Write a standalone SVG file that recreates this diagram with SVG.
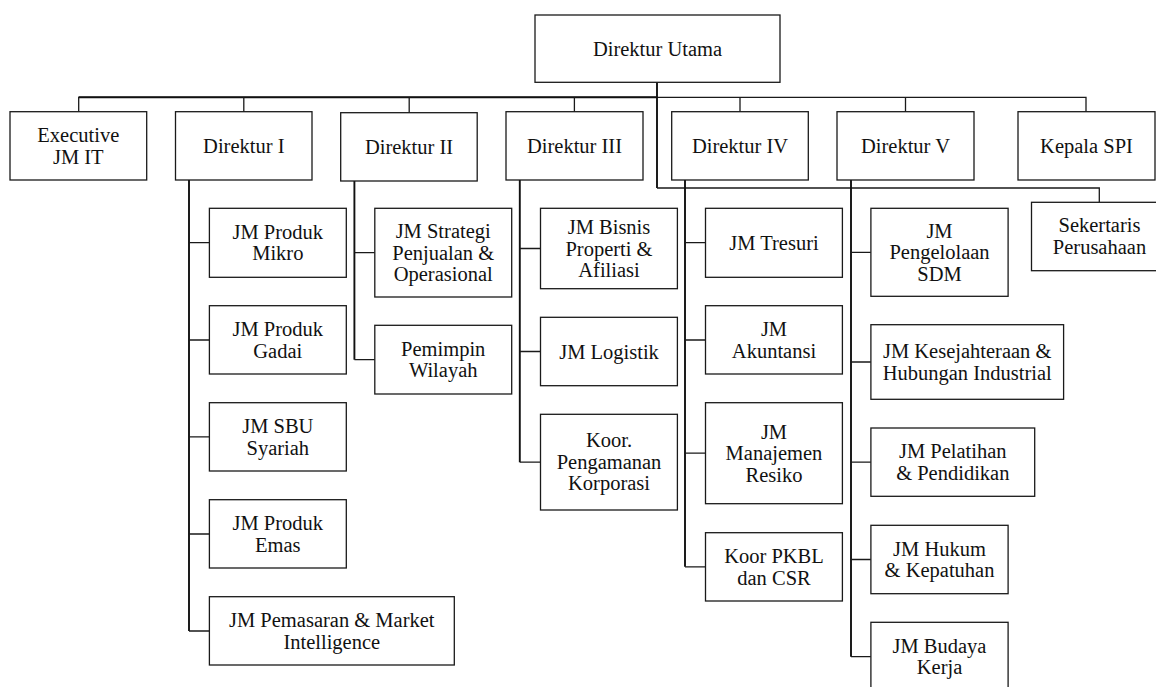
<svg xmlns="http://www.w3.org/2000/svg" width="1156" height="687" viewBox="0 0 1156 687">
<style>
.box{fill:#fff;stroke:#1a1a1a;stroke-width:1.3}
.t{font-family:'Liberation Serif','Times New Roman',Tinos,'DejaVu Serif',serif;font-size:20.5px;text-anchor:middle;fill:#111}
.c{fill:none;stroke:#1a1a1a;stroke-width:1.3}
.ck{fill:none;stroke:#111;stroke-width:1.9}
</style>
<rect width="1156" height="687" fill="#fff"/>
<g id="connectors">
<path class="c" d="M78.7 111.7V97.3H1086V111.7"/>
<path class="ck" d="M78.7 97.3H657"/>
<path class="c" d="M243.8 97.3V112M409.2 97.3V112.7M574.4 97.3V112M740 97.3V112M905.5 97.3V112"/>
<path class="ck" d="M657 82.3V188"/>
<path class="c" d="M657 188H1099.3V202.3"/>
<path class="ck" d="M189 180V631"/>
<path class="c" d="M189 242.7H209.4M189 340H209.4M189 436.8H209.4M189 534H209.4M189 631H209.4"/>
<path class="ck" d="M354.4 181V359.7"/>
<path class="c" d="M354.4 252.7H374.8M354.4 359.7H374.8"/>
<path class="ck" d="M519.8 180V462.2"/>
<path class="c" d="M519.8 248.5H540.5M519.8 351.5H540.5M519.8 462.2H540.5"/>
<path class="ck" d="M685 180V566.8"/>
<path class="c" d="M685 242.7H705.5M685 340H705.5M685 453.2H705.5M685 566.8H705.5"/>
<path class="ck" d="M851 180V656.7"/>
<path class="c" d="M851 252.3H870.9M851 362H870.9M851 462.2H870.9M851 559.5H870.9M851 656.7H870.9"/>
</g>
<g font-family="Liberation Serif, Times New Roman, serif">
<g id="direktur-utama"><rect class="box" x="535" y="15" width="245" height="67.3"/><text class="t" x="657.5" y="55.7">Direktur Utama</text></g>
<g id="executive-jm-it"><rect class="box" x="10" y="111.7" width="136.7" height="68.3"/><text class="t" x="78.3" y="142.1">Executive</text><text class="t" x="78.3" y="163.6">JM IT</text></g>
<g id="direktur-i"><rect class="box" x="175.5" y="111.7" width="136.5" height="68.3"/><text class="t" x="243.8" y="152.8">Direktur I</text></g>
<g id="direktur-ii"><rect class="box" x="340.7" y="112.7" width="136.5" height="68.3"/><text class="t" x="409" y="153.8">Direktur II</text></g>
<g id="direktur-iii"><rect class="box" x="506" y="111.7" width="137" height="68.3"/><text class="t" x="574.5" y="152.8">Direktur III</text></g>
<g id="direktur-iv"><rect class="box" x="671.7" y="111.7" width="136.6" height="68.3"/><text class="t" x="740" y="152.8">Direktur IV</text></g>
<g id="direktur-v"><rect class="box" x="837" y="111.7" width="137" height="68.3"/><text class="t" x="905.5" y="152.8">Direktur V</text></g>
<g id="kepala-spi"><rect class="box" x="1018" y="111.7" width="137" height="68.3"/><text class="t" x="1086.5" y="152.8">Kepala SPI</text></g>
<g id="sekertaris-perusahaan"><rect class="box" x="1031.5" y="202.3" width="137" height="68.4"/><text class="t" x="1099.5" y="232.3">Sekertaris</text><text class="t" x="1099.5" y="253.8">Perusahaan</text></g>
<g id="jm-produk-mikro"><rect class="box" x="209.4" y="208.3" width="136.9" height="69"/><text class="t" x="277.8" y="238.6">JM Produk</text><text class="t" x="277.8" y="260.1">Mikro</text></g>
<g id="jm-produk-gadai"><rect class="box" x="209.4" y="305.7" width="136.9" height="68.3"/><text class="t" x="277.8" y="336">JM Produk</text><text class="t" x="277.8" y="357.5">Gadai</text></g>
<g id="jm-sbu-syariah"><rect class="box" x="209.4" y="402.7" width="136.9" height="68.3"/><text class="t" x="277.8" y="433">JM SBU</text><text class="t" x="277.8" y="454.5">Syariah</text></g>
<g id="jm-produk-emas"><rect class="box" x="209.4" y="499.7" width="136.9" height="68.3"/><text class="t" x="277.8" y="530">JM Produk</text><text class="t" x="277.8" y="551.5">Emas</text></g>
<g id="jm-pemasaran"><rect class="box" x="209.4" y="596.7" width="244.9" height="68.3"/><text class="t" x="331.8" y="627">JM Pemasaran &amp; Market</text><text class="t" x="331.8" y="648.5">Intelligence</text></g>
<g id="jm-strategi"><rect class="box" x="374.8" y="208.3" width="136.9" height="88.7"/><text class="t" x="443.2" y="238.2">JM Strategi</text><text class="t" x="443.2" y="259.7">Penjualan &amp;</text><text class="t" x="443.2" y="281.2">Operasional</text></g>
<g id="pemimpin-wilayah"><rect class="box" x="374.8" y="325.3" width="136.9" height="68.7"/><text class="t" x="443.2" y="355.8">Pemimpin</text><text class="t" x="443.2" y="377.3">Wilayah</text></g>
<g id="jm-bisnis-properti"><rect class="box" x="540.5" y="208.3" width="136.9" height="80.4"/><text class="t" x="609" y="234.2">JM Bisnis</text><text class="t" x="609" y="255.7">Properti &amp;</text><text class="t" x="609" y="277.2">Afiliasi</text></g>
<g id="jm-logistik"><rect class="box" x="540.5" y="317.3" width="136.9" height="68.4"/><text class="t" x="609" y="358.5">JM Logistik</text></g>
<g id="koor-pengamanan"><rect class="box" x="540.5" y="414.3" width="136.9" height="95.7"/><text class="t" x="609" y="447.2">Koor.</text><text class="t" x="609" y="468.7">Pengamanan</text><text class="t" x="609" y="490.2">Korporasi</text></g>
<g id="jm-tresuri"><rect class="box" x="705.5" y="208.3" width="136.9" height="69"/><text class="t" x="774" y="249.7">JM Tresuri</text></g>
<g id="jm-akuntansi"><rect class="box" x="705.5" y="305.7" width="136.9" height="68.3"/><text class="t" x="774" y="336">JM</text><text class="t" x="774" y="357.5">Akuntansi</text></g>
<g id="jm-manajemen-resiko"><rect class="box" x="705.5" y="402.7" width="136.9" height="101"/><text class="t" x="774" y="438.7">JM</text><text class="t" x="774" y="460.2">Manajemen</text><text class="t" x="774" y="481.7">Resiko</text></g>
<g id="koor-pkbl"><rect class="box" x="705.5" y="532.7" width="136.9" height="68.3"/><text class="t" x="774" y="563">Koor PKBL</text><text class="t" x="774" y="584.5">dan CSR</text></g>
<g id="jm-pengelolaan-sdm"><rect class="box" x="870.9" y="208.3" width="137.2" height="88"/><text class="t" x="939.5" y="237.8">JM</text><text class="t" x="939.5" y="259.3">Pengelolaan</text><text class="t" x="939.5" y="280.8">SDM</text></g>
<g id="jm-kesejahteraan"><rect class="box" x="870.9" y="324.7" width="192.7" height="74.6"/><text class="t" x="967.2" y="358.3">JM Kesejahteraan &amp;</text><text class="t" x="967.2" y="379.8">Hubungan Industrial</text></g>
<g id="jm-pelatihan"><rect class="box" x="870.9" y="428" width="163.8" height="68.3"/><text class="t" x="952.8" y="458.4">JM Pelatihan</text><text class="t" x="952.8" y="479.9">&amp; Pendidikan</text></g>
<g id="jm-hukum"><rect class="box" x="870.9" y="525.3" width="137.2" height="68.4"/><text class="t" x="939.5" y="555.7">JM Hukum</text><text class="t" x="939.5" y="577.2">&amp; Kepatuhan</text></g>
<g id="jm-budaya-kerja"><rect class="box" x="870.9" y="622.3" width="137.2" height="68.7"/><text class="t" x="939.5" y="652.7">JM Budaya</text><text class="t" x="939.5" y="674.2">Kerja</text></g>
</g>
</svg>
